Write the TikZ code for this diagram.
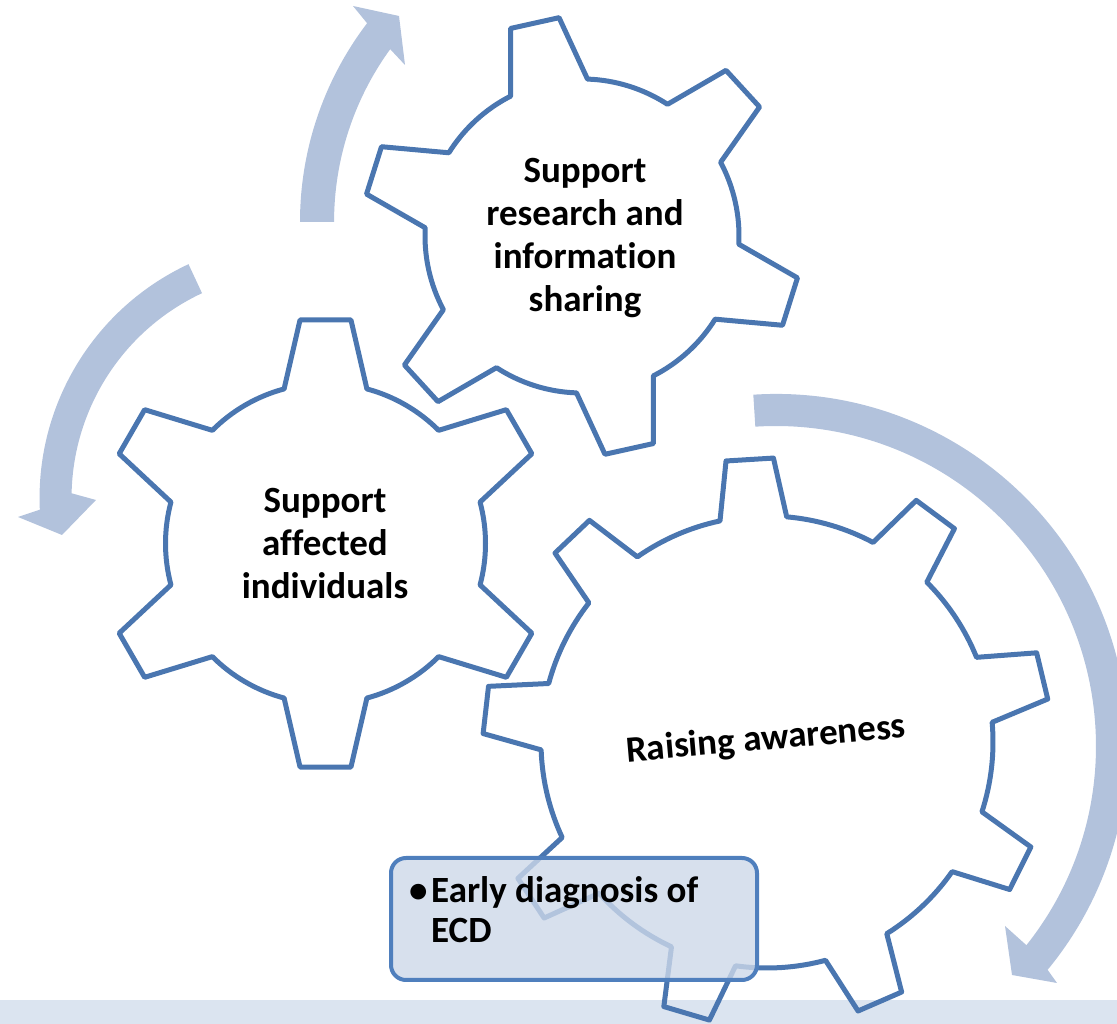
\documentclass[tikz,border=0pt]{standalone}
\usepackage{fontspec}
\setmainfont[Ligatures=NoCommon]{Carlito}
\usepackage{tikz}
\definecolor{gearblue}{HTML}{4A76B0}
\definecolor{turnblue}{HTML}{B2C2DC}
\definecolor{bandblue}{HTML}{DBE4F0}
\definecolor{boxfill}{HTML}{CDD8E9}
\definecolor{boxline}{HTML}{4F7FBD}
\tikzstyle{gear}=[draw=gearblue,line width=5pt,line join=round]
\tikzstyle{turn}=[fill=turnblue]
\tikzstyle{geartext}=[align=center,font=\bfseries\fontsize{37}{43}\selectfont,inner sep=0pt]
\tikzstyle{notebox}=[rectangle,rounded corners=15pt,draw=boxline,line width=4pt,fill=boxfill,fill opacity=0.8]
\tikzstyle{boxtext}=[align=left,font=\bfseries\fontsize{37}{40}\selectfont,inner sep=0pt]

\begin{document}
\begin{tikzpicture}[x=1pt,y=1pt]

  \clip (0,0) rectangle (1117,1024);
  \fill[bandblue] (0,0) rectangle (1117,24);

  % the three turning arrows
  \fill[turn] (300,802) arc[start angle=180,end angle=142.7,radius=328]
    -- (353,1018) -- (399,1008) -- (405,959)
    -- (390.2,974.8) arc[start angle=144,end angle=180,radius=294] -- cycle;
  \fill[turn] (188.5,759.8) arc[start angle=115,end angle=182.6,radius=258]
    -- (18,507) -- (62,489) -- (96,524)
    -- (71.6,530.7) arc[start angle=178.8,end angle=115,radius=226] -- cycle;
  \fill[turn] (753.3,629.3) arc[start angle=93.7,end angle=-39.5,radius=352]
    -- (1057,41) -- (1012,49) -- (1005,98)
    -- (1026.4,78.8) arc[start angle=-38.5,end angle=93.7,radius=320] -- cycle;

  % gears
  \draw[gear,shift={(582,788)}] ({102.5-14.5}:157)
    \foreach \a in {102.5,162.5,...,402.5}{
      -- ({\a-6.5}:219.5) -- ({\a+6.5}:219.5) -- ({\a+14.5}:157)
      arc[start angle=\a+14.5,end angle=\a+45.5,radius=157]
    } -- cycle;
  \draw[gear,shift={(325.5,480.5)}] ({90-15}:160)
    \foreach \a in {90,150,...,390}{
      -- ({\a-6.5}:225) -- ({\a+6.5}:225) -- ({\a+15}:160)
      arc[start angle=\a+15,end angle=\a+45,radius=160]
    } -- cycle;
  \draw[gear,shift={(767,282)}] ({93.5-8.5}:226)
    \foreach \a in {93.5,133.5,...,413.5}{
      -- ({\a-4.8}:284) -- ({\a+4.8}:284) -- ({\a+8.5}:226)
      arc[start angle=\a+8.5,end angle=\a+31.5,radius=226]
    } -- cycle;

  \node[geartext] (research) at (585,786) {Support\\research and\\information\\sharing};
  \node[geartext] (affected) at (325,480) {Support\\affected\\individuals};
  \node[geartext,rotate=5] (awareness) at (766,284) {Raising awareness};

  \node[notebox,minimum width=366pt,minimum height=122pt] (ecdbox) at (574,105) {};
  \node[boxtext,anchor=north west] (ecdtext) at ([xshift=20pt,yshift=-20pt]ecdbox.north west)
    {\makebox[22pt][l]{\textbullet}Early diagnosis of\\\hspace*{22pt}ECD};

\end{tikzpicture}
\end{document}
